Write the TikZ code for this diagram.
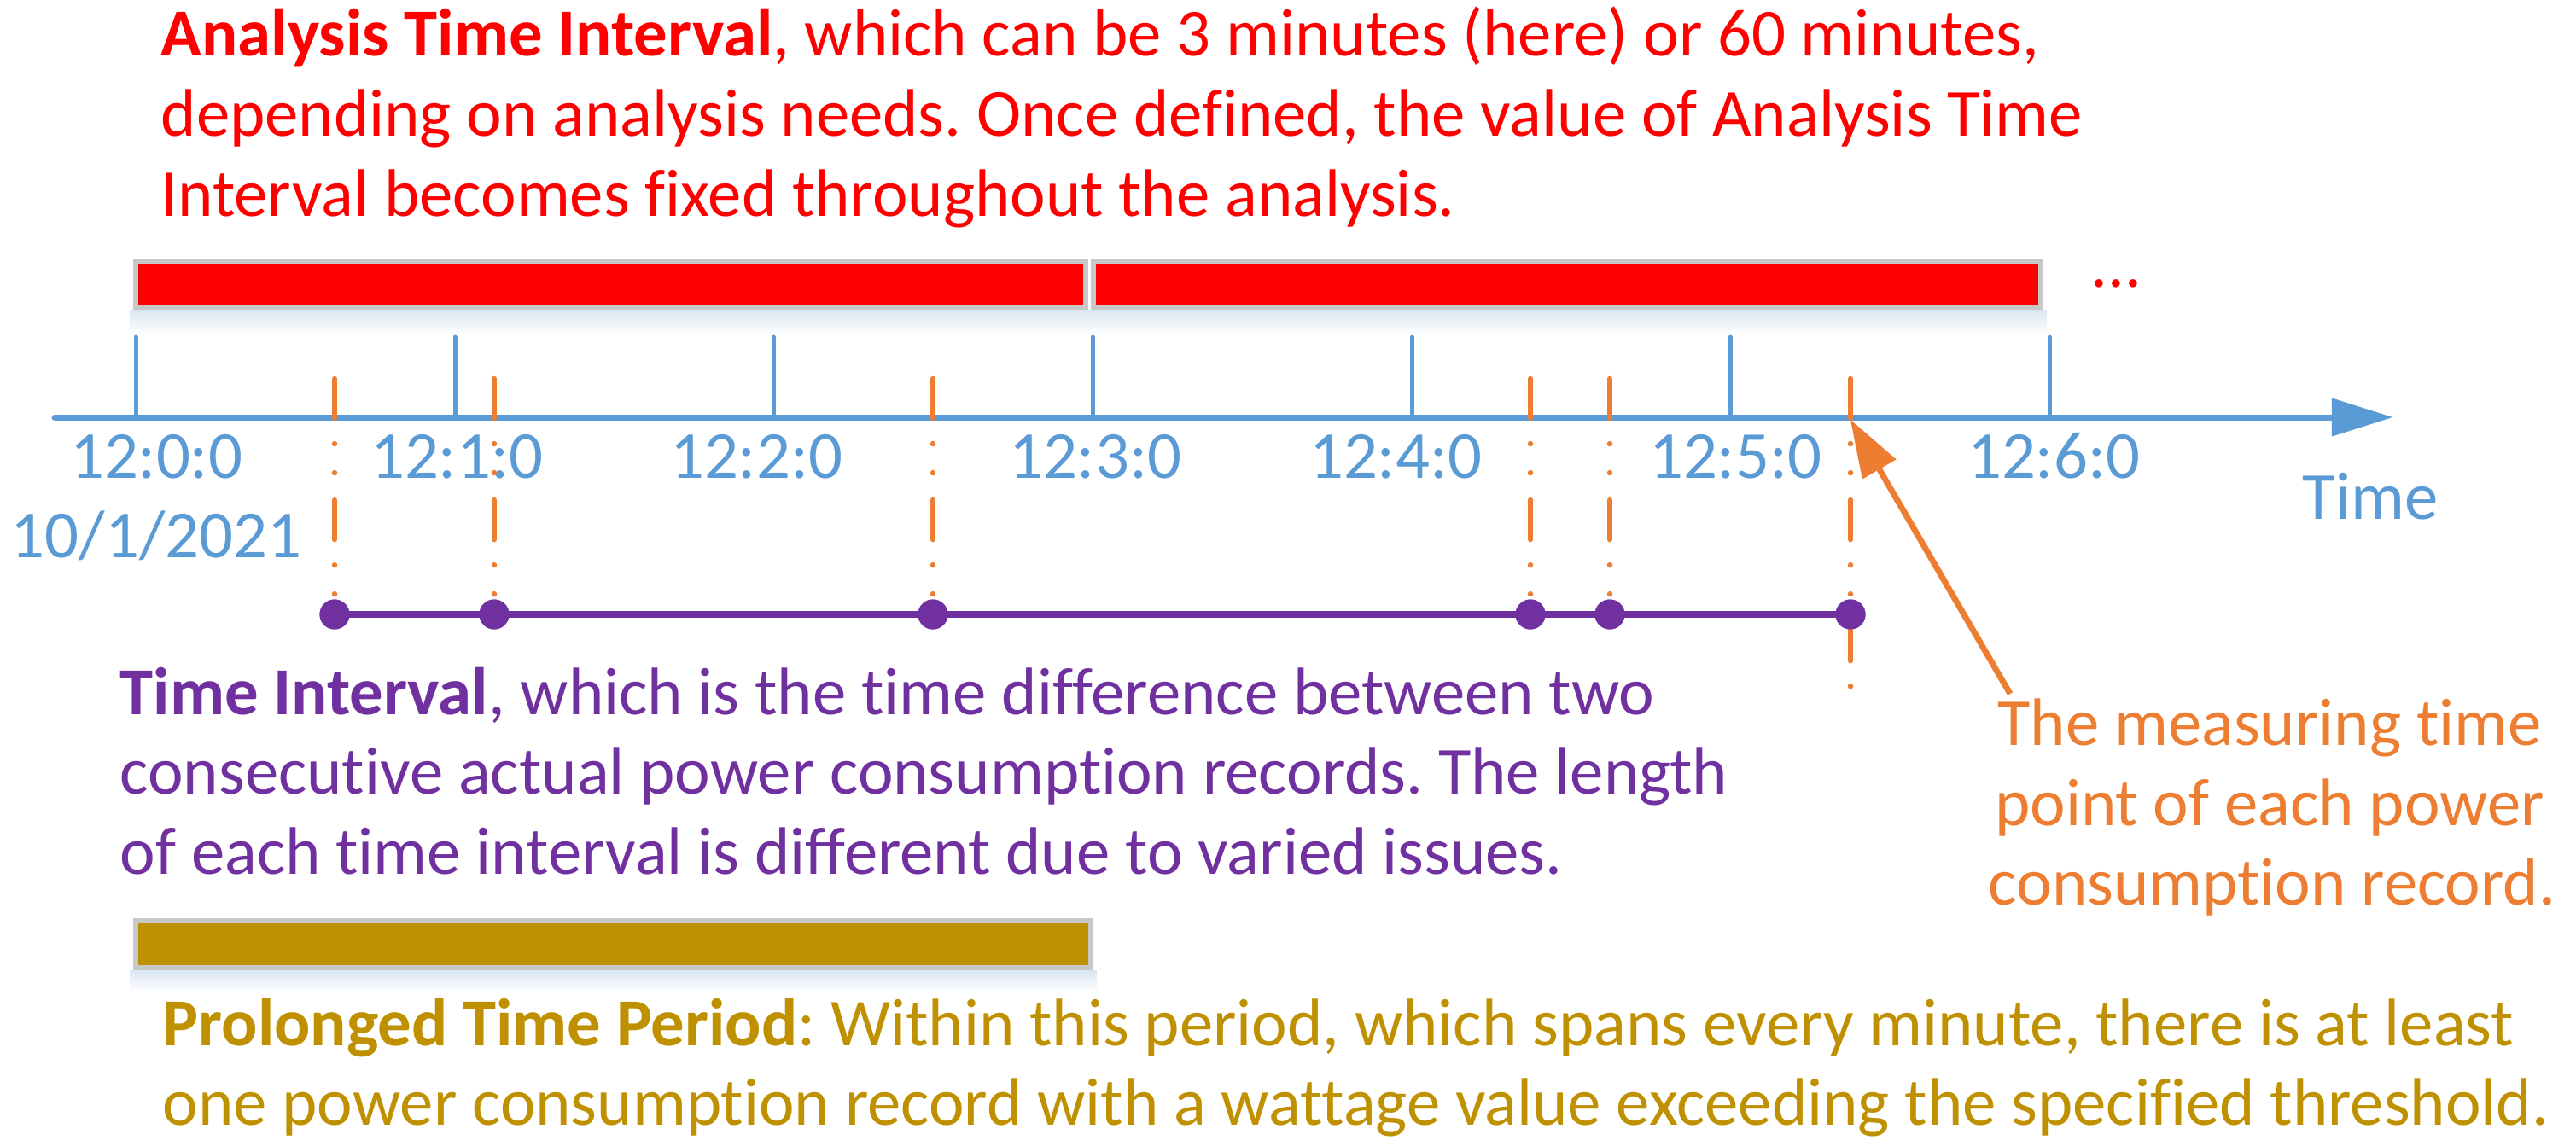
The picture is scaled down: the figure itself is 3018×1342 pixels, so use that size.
\documentclass[tikz,border=0pt]{standalone}
\usepackage{fontspec}
\setmainfont{Carlito}[Ligatures=NoCommon]
\frenchspacing
\usetikzlibrary{arrows.meta}
\definecolor{axblue}{RGB}{91,155,213}
\definecolor{recorange}{RGB}{237,125,49}
\definecolor{ivpurple}{RGB}{112,48,160}
\definecolor{prgold}{RGB}{191,144,0}
\definecolor{bargray}{RGB}{200,200,200}
\definecolor{shadowblue}{RGB}{218,229,242}
\begin{document}
\begin{tikzpicture}[x=0.01cm,y=-0.01cm,
  txt/.style={inner sep=0pt, anchor=base west, font=\fontsize{22.4}{26.7}\selectfont},
  lbl/.style={inner sep=0pt, anchor=base, text=axblue, font=\fontsize{22.4}{26.7}\selectfont},
  ctr/.style={inner sep=0pt, anchor=base, font=\fontsize{22.4}{26.7}\selectfont},
  barbox/.style={draw=bargray, line width=0.06cm},
  tickline/.style={draw=axblue, line width=0.05cm, line cap=round},
  recline/.style={draw=recorange, line width=0.065cm, line cap=round,
    dash pattern=on 0.46cm off 0.30cm on 0cm off 0.34cm on 0cm off 0.32cm},
  recdot/.style={circle, fill=ivpurple, inner sep=0pt, minimum size=0.35cm},
  ivline/.style={draw=ivpurple, line width=0.08cm}
]
\useasboundingbox (0,0) rectangle (3018,1342);
\fill[white] (0,0) rectangle (3018,1342);

% top text
\node[txt, text=red] (at1) at (188,65) {\textbf{Analysis Time Interval}, which can be 3 minutes (here) or 60 minutes,};
\node[txt, text=red] (at2) at (188,159) {depending on analysis needs. Once defined, the value of Analysis Time};
\node[txt, text=red] (at3) at (188,253) {Interval becomes fixed throughout the analysis.};

% shadows
\shade[top color=shadowblue, bottom color=white] (152,363) rectangle (2398,392);
\shade[top color=shadowblue, bottom color=white] (152,1137) rectangle (1285,1162);

% red bars
\draw[barbox, fill=red] (159,306) rectangle (1272,360);
\draw[barbox, fill=red] (1281,306) rectangle (2391,360);
\node[txt, text=red] (more) at (2449,336) {...};

% time axis
\coordinate (axstart) at (64,489);
\coordinate (axend) at (2803,489);
\draw[axblue, line width=0.07cm, line cap=round,
  -{Triangle[length=0.71cm,width=0.45cm,line width=0pt]}] (axstart) -- (axend);
\foreach \x [count=\i] in {159,533,906,1280,1654,2027,2401}{
  \coordinate (tk\i) at (\x,395);
  \draw[tickline] (tk\i) -- (\x,489);
}

% blue labels
\node[lbl] (l0) at (183,560) {12:0:0};
\node[lbl] (date) at (183,653) {10/1/2021};
\node[lbl] (l1) at (535,560) {12:1:0};
\node[lbl] (l2) at (886,560) {12:2:0};
\node[lbl] (l3) at (1283,560) {12:3:0};
\node[lbl] (l4) at (1635,560) {12:4:0};
\node[lbl] (l5) at (2033,560) {12:5:0};
\node[lbl] (l6) at (2406,560) {12:6:0};
\node[lbl] (timelbl) at (2777,608) {Time};

% record lines
\foreach \x [count=\i] in {392,579,1093,1793,1886,2168}{
  \coordinate (r\i) at (\x,444);
  \node[recdot] (p\i) at (\x,720) {};
}
\coordinate (rtip) at (2168,492);
\coordinate (rend) at (2168,805);
\foreach \i in {1,...,5}{ \draw[recline] (r\i) -- (p\i.center); }
\draw[recline] (r6) -- (rend);

% time intervals
\draw[ivline] (p1.center) -- (p6.center);
\foreach \x [count=\i] in {392,579,1093,1793,1886,2168}{
  \node[recdot] (q\i) at (p\i) {};
}

% purple text
\node[txt, text=ivpurple] (iv1) at (140,837) {\textbf{Time Interval}, which is the time difference between two};
\node[txt, text=ivpurple] (iv2) at (140,930) {consecutive actual power consumption records. The length};
\node[txt, text=ivpurple] (iv3) at (140,1024) {of each time interval is different due to varied issues.};

% orange explanation
\node[ctr, text=recorange] (m1) at (2659,873) {The measuring time};
\node[ctr, text=recorange] (m2) at (2659,967) {point of each power};
\node[ctr, text=recorange] (m3) at (2662,1060) {consumption record.};
\coordinate (arrstart) at (2355,813);
\draw[recorange, line width=0.07cm,
  -{Triangle[length=0.67cm,width=0.46cm,line width=0pt]}] (arrstart) -- (rtip);

% prolonged period bar
\draw[barbox, fill=prgold] (159,1079) rectangle (1278,1134);
\node[txt, text=prgold] (pp1) at (190,1225) {\textbf{Prolonged Time Period}: Within this period, which spans every minute, there is at least};
\node[txt, text=prgold] (pp2) at (190,1318) {one power consumption record with a wattage value exceeding the specified threshold.};
\end{tikzpicture}
\end{document}
